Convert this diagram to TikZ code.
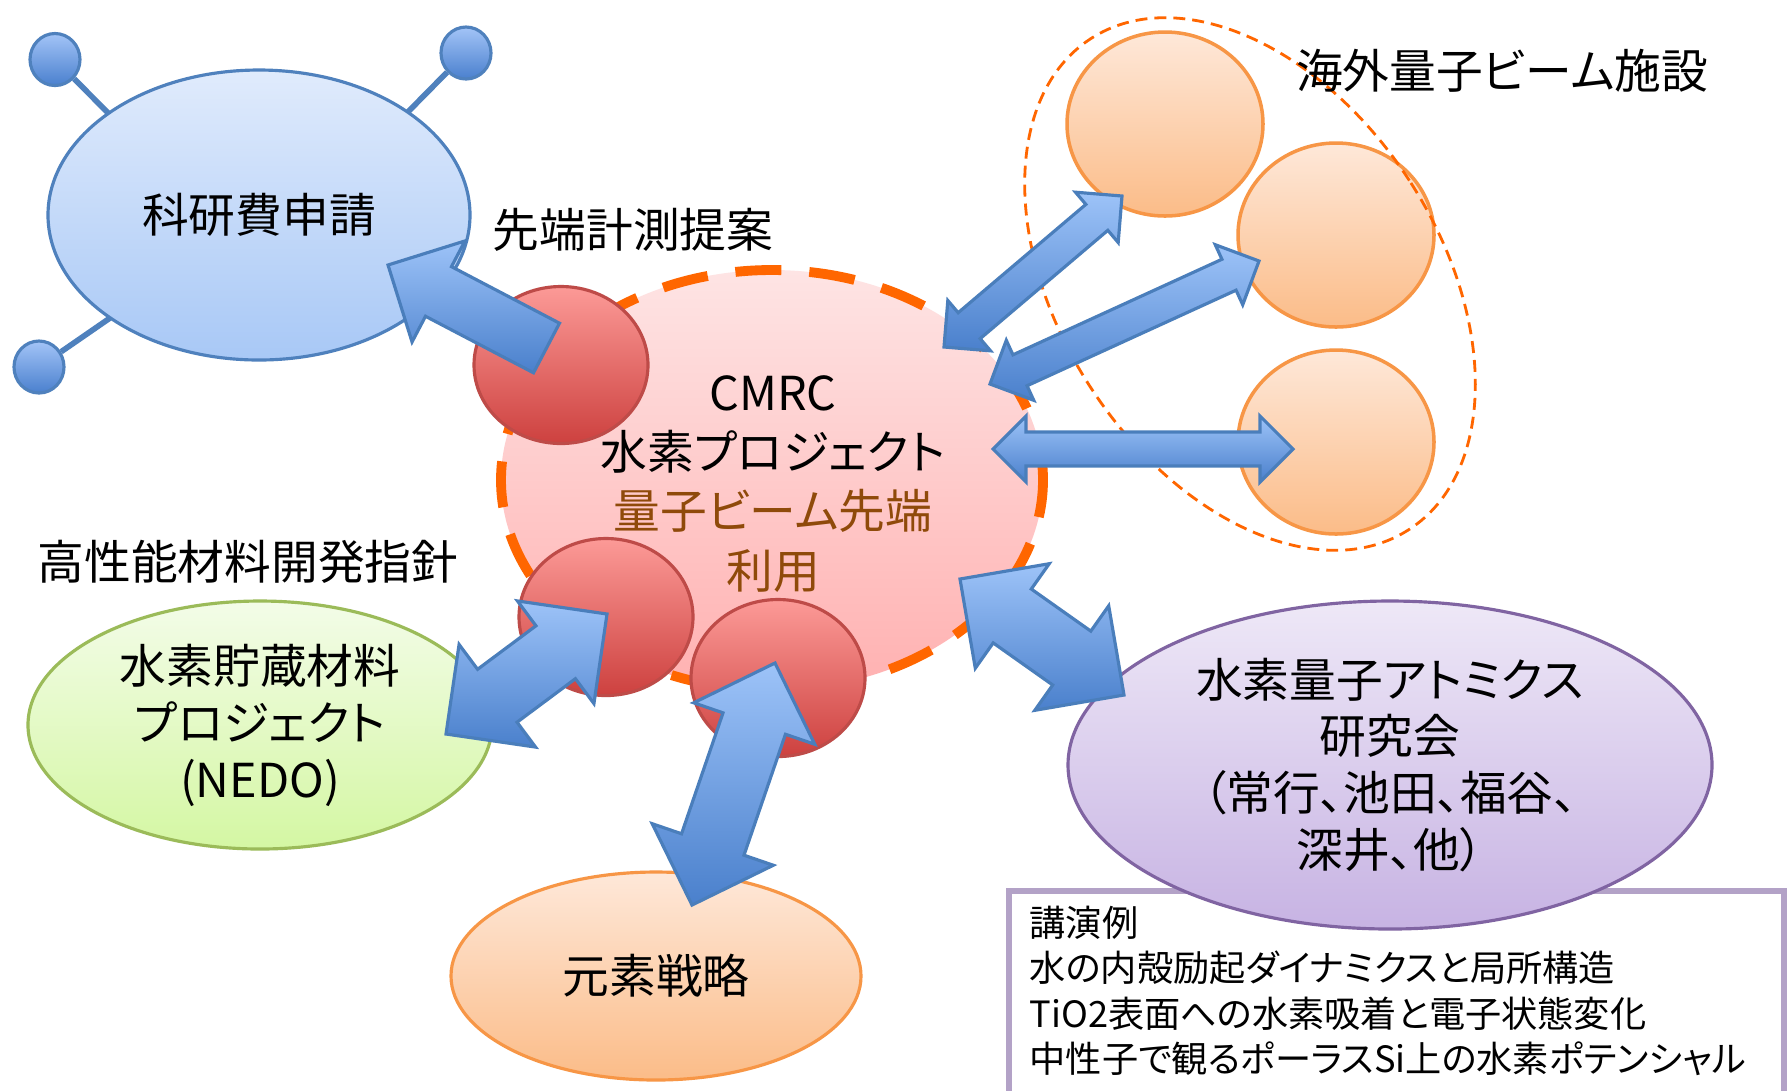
\documentclass[tikz,border=0pt]{standalone}
\usepackage{fontspec}
\setmainfont[RawFeature=+palt]{Noto Sans CJK JP}
\usetikzlibrary{calc,shapes.geometric}
\definecolor{blueLine}{HTML}{4F81BD}
\definecolor{blueTop}{HTML}{E0EBFC}
\definecolor{blueBot}{HTML}{A8C8F6}
\definecolor{dotTop}{HTML}{A3C4F7}
\definecolor{dotBot}{HTML}{4A80CE}
\definecolor{pinkTop}{HTML}{FEE4E4}
\definecolor{pinkBot}{HTML}{FFB1B1}
\definecolor{dashOr}{HTML}{FF6600}
\definecolor{redTop}{HTML}{FC9A97}
\definecolor{redBot}{HTML}{CD413F}
\definecolor{redLine}{HTML}{BE4B48}
\definecolor{orTop}{HTML}{FEE8D9}
\definecolor{orBot}{HTML}{FBBC88}
\definecolor{orLine}{HTML}{F79646}
\definecolor{grTop}{HTML}{F3FCE8}
\definecolor{grBot}{HTML}{D4F7A3}
\definecolor{grLine}{HTML}{9BBB59}
\definecolor{puTop}{HTML}{EEE8F7}
\definecolor{puBot}{HTML}{C7B3E3}
\definecolor{puLine}{HTML}{8064A2}
\definecolor{boxLine}{HTML}{B3A2C7}
\definecolor{brn}{HTML}{8F4A0A}
\definecolor{arTop}{HTML}{9DC3F8}
\definecolor{arBot}{HTML}{4A80CC}
\definecolor{arLine}{HTML}{4A7EBB}
\tikzset{
  bigtxt/.style={font=\fontsize{13.3}{16.2}\selectfont},
  blob/.style={ellipse, inner sep=0pt, align=center, line width=0.9pt, bigtxt},
  dot/.style={ellipse, inner sep=0pt, minimum width=0.5cm, minimum height=0.52cm,
    draw=blueLine, line width=0.9pt, top color=dotTop, bottom color=dotBot},
  redball/.style={ellipse, inner sep=0pt, minimum width=1.74cm, minimum height=1.57cm,
    draw=redLine, line width=0.9pt, top color=redTop, bottom color=redBot},
  orball/.style={ellipse, inner sep=0pt, minimum width=1.96cm, minimum height=1.84cm,
    draw=orLine, line width=1pt, top color=orTop, bottom color=orBot},
  stick/.style={blueLine, line width=1.6pt},
  label/.style={bigtxt, inner sep=0pt},
  blockarr/.style={top color=arTop, bottom color=arBot, draw=arLine, line width=0.9pt, line join=miter},
}
% double block arrow: #1 end A, #2 end B, #3 shaft half width, #4 head half width, #5 head length
\newcommand{\bArrowTwo}[5]{%
  \path[blockarr] (#1)
    -- ($(#1)!#5!(#2)!#4!90:(#2)$)
    -- ($(#1)!#5!(#2)!#3!90:(#2)$)
    -- ($(#2)!#5!(#1)!#3!-90:(#1)$)
    -- ($(#2)!#5!(#1)!#4!-90:(#1)$)
    -- (#2)
    -- ($(#2)!#5!(#1)!#4!90:(#1)$)
    -- ($(#2)!#5!(#1)!#3!90:(#1)$)
    -- ($(#1)!#5!(#2)!#3!-90:(#2)$)
    -- ($(#1)!#5!(#2)!#4!-90:(#2)$)
    -- cycle;}
% single block arrow: #1 tail, #2 tip
\newcommand{\bArrowOne}[5]{%
  \path[blockarr] ($(#1)!#3!90:(#2)$)
    -- ($(#2)!#5!(#1)!#3!-90:(#1)$)
    -- ($(#2)!#5!(#1)!#4!-90:(#1)$)
    -- (#2)
    -- ($(#2)!#5!(#1)!#4!90:(#1)$)
    -- ($(#2)!#5!(#1)!#3!90:(#1)$)
    -- ($(#1)!#3!-90:(#2)$)
    -- cycle;}
\begin{document}
\begin{tikzpicture}
\useasboundingbox (0,0) rectangle (17.87,-10.90);
\clip (0,0) rectangle (17.87,-10.90);
\fill[white] (0,0) rectangle (17.87,-10.90);

% talk examples box
\draw[boxLine, line width=1.5pt, fill=white] (10.09,-8.91) rectangle (17.84,-11.5);

% Kakenhi group
\node[dot] (d1) at (0.55,-0.595) {};
\node[dot] (d2) at (4.66,-0.53) {};
\node[dot] (d3) at (0.39,-3.67) {};
\coordinate (e1) at (1.30,-1.35);
\coordinate (e2) at (4.00,-1.20);
\coordinate (e3) at (1.10,-3.18);
\draw[stick] (d1) -- (e1);
\draw[stick] (d2) -- (e2);
\draw[stick] (d3) -- (e3);
\node[blob, draw=blueLine, top color=blueTop, bottom color=blueBot,
  minimum width=4.22cm, minimum height=2.90cm] (kaken) at (2.59,-2.15) {科研費申請};

% center
\node[blob, draw=dashOr, line width=2.8pt, dash pattern=on 0.46cm off 0.28cm,
  top color=pinkTop, bottom color=pinkBot,
  minimum width=5.42cm, minimum height=4.20cm] (cmrc) at (7.72,-4.80) {};
\node[inner sep=0pt, align=center, font=\fontsize{13.3}{16.8}\selectfont] (cmrctxt) at (7.73,-4.84)
  {CMRC\\水素プロジェクト\\\textcolor{brn}{量子ビーム先端}\\\textcolor{brn}{利用}};
\node[redball] (r1) at (5.61,-3.65) {};
\node[redball] (r2) at (6.06,-6.17) {};
\node[redball] (r3) at (7.78,-6.78) {};

% overseas facilities
\node[orball] (o1) at (11.65,-1.24) {};
\node[orball] (o2) at (13.36,-2.35) {};
\node[orball] (o3) at (13.36,-4.42) {};
\node[ellipse, draw=dashOr, line width=0.8pt, dash pattern=on 3.4pt off 2pt,
  minimum width=3.80cm, minimum height=5.85cm, rotate=33, inner sep=0pt] (grp) at (12.50,-2.84) {};

% other partners
\node[blob, draw=grLine, top color=grTop, bottom color=grBot,
  minimum width=4.64cm, minimum height=2.48cm] (nedo) at (2.60,-7.25)
  {水素貯蔵材料\\プロジェクト\\(NEDO)};
\node[blob, draw=puLine, top color=puTop, bottom color=puBot,
  minimum width=6.44cm, minimum height=3.28cm] (atom) at (13.90,-7.65)
  {水素量子アトミクス\\研究会\\（常行、池田、福谷、\\深井、他）};
\node[blob, draw=orLine, top color=orTop, bottom color=orBot,
  minimum width=4.10cm, minimum height=2.08cm] (gen) at (6.56,-9.76) {元素戦略};

\node[anchor=north west, inner sep=0pt, align=left, font=\fontsize{10.3}{12.96}\selectfont]
  (talks) at (10.29,-9.05)
  {講演例\\水の内殻励起ダイナミクスと局所構造\\TiO2表面への水素吸着と電子状態変化\\中性子で観るポーラスSi上の水素ポテンシャル};

% labels
\node[label] (l1) at (6.33,-2.30) {先端計測提案};
\node[label] (l2) at (15.02,-0.71) {海外量子ビーム施設};
\node[label] (l3) at (2.48,-5.62) {高性能材料開発指針};

% arrows
\coordinate (s1a) at (5.465,-3.48); \coordinate (s1b) at (3.88,-2.65);
\bArrowOne{s1a}{s1b}{0.28cm}{0.57cm}{0.57cm}
\coordinate (a1a) at (9.44,-3.47); \coordinate (a1b) at (11.22,-1.96);
\bArrowTwo{a1a}{a1b}{0.17cm}{0.33cm}{0.33cm}
\coordinate (a2a) at (9.90,-3.84); \coordinate (a2b) at (12.59,-2.61);
\bArrowTwo{a2a}{a2b}{0.17cm}{0.33cm}{0.33cm}
\coordinate (a3a) at (9.93,-4.49); \coordinate (a3b) at (12.93,-4.49);
\bArrowTwo{a3a}{a3b}{0.17cm}{0.33cm}{0.33cm}
\coordinate (a4a) at (9.60,-5.79); \coordinate (a4b) at (11.24,-6.95);
\bArrowTwo{a4a}{a4b}{0.33cm}{0.64cm}{0.64cm}
\coordinate (a5a) at (6.07,-6.14); \coordinate (a5b) at (4.46,-7.34);
\bArrowTwo{a5a}{a5b}{0.33cm}{0.64cm}{0.64cm}
\coordinate (a6a) at (7.75,-6.63); \coordinate (a6b) at (6.92,-9.05);
\bArrowTwo{a6a}{a6b}{0.33cm}{0.64cm}{0.64cm}
\end{tikzpicture}
\end{document}
